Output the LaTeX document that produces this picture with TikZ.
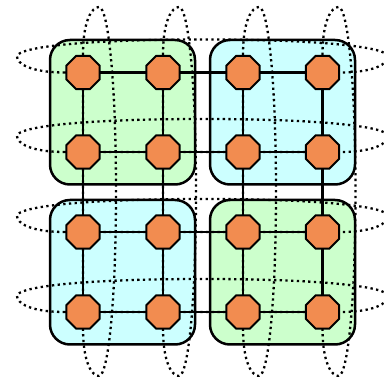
\documentclass[tikz,border=0pt]{standalone}
\usetikzlibrary{shapes.geometric}
\definecolor{boxgreen}{RGB}{204,255,204}
\definecolor{boxcyan}{RGB}{204,255,255}
\definecolor{octo}{RGB}{242,140,80}
\begin{document}
\begin{tikzpicture}[x=1pt,y=-1pt,
  box/.style={draw=black, line width=2.5pt, rounded corners=20pt},
  loopline/.style={draw=black, line width=2.3pt, dash pattern=on 2.3pt off 3.4pt},
  qubit/.style={regular polygon, regular polygon sides=8, minimum size=36pt, inner sep=0pt, outer sep=0pt, fill=octo, draw=black, line width=2pt},
  link/.style={line width=2.5pt}]
\useasboundingbox (0,0) rectangle (384,377);
% boxes
\draw[box, fill=boxgreen] (50,40) rectangle (195,184.5);
\draw[box, fill=boxcyan] (210,40) rectangle (355,184.5);
\draw[box, fill=boxcyan] (50,200) rectangle (195,344.5);
\draw[box, fill=boxgreen] (210,200) rectangle (355,344.5);
% vertical loops
\foreach \c in {83,163,243,322.5}
  \draw[loopline] (\c,55) .. controls (\c,20) and (\c+9,7) .. (\c+16,7)
    .. controls (\c+25,7) and (\c+33,80) .. (\c+33,191.5)
    .. controls (\c+33,303) and (\c+25,376) .. (\c+16,376)
    .. controls (\c+9,376) and (\c,363) .. (\c,328) -- cycle;
% horizontal loops
\foreach \r in {72.5,152,232,312}
  \draw[loopline] (65,\r) .. controls (30,\r) and (17,\r-9) .. (17,\r-16)
    .. controls (17,\r-25) and (80,\r-33) .. (202.5,\r-33)
    .. controls (325,\r-33) and (388,\r-25) .. (388,\r-16)
    .. controls (388,\r-9) and (375,\r) .. (340,\r) -- cycle;
% nodes
\foreach \r [count=\i] in {72.5,152,232,312}
  \foreach \c [count=\j] in {83,163,243,322.5}
    \node[qubit] (n\i\j) at (\c,\r) {};
% edges
\foreach \i in {1,...,4}
  \foreach \j/\k in {1/2,2/3,3/4} {
    \draw[link] (n\i\j) -- (n\i\k);
    \draw[link] (n\j\i) -- (n\k\i);
  }
\end{tikzpicture}
\end{document}
